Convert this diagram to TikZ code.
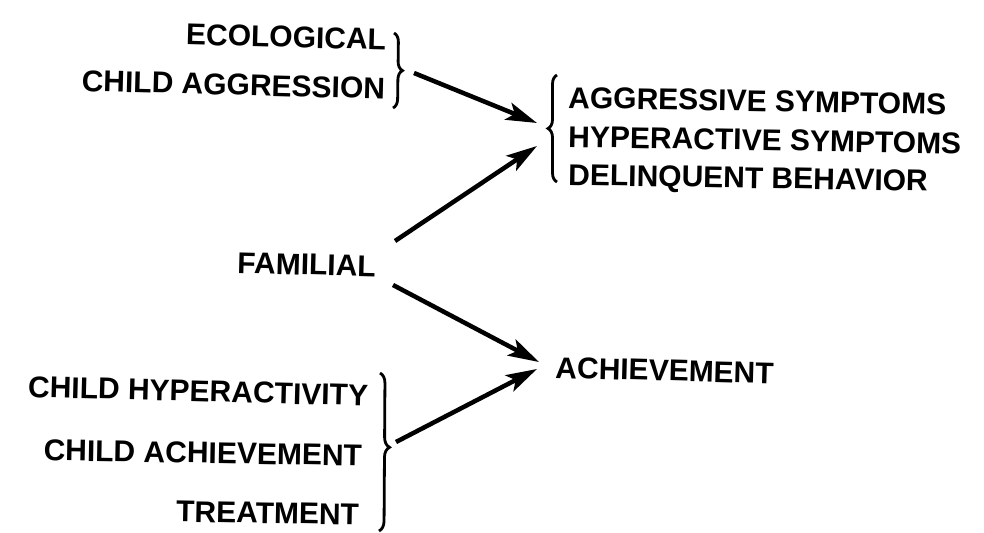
\documentclass[tikz,border=0pt]{standalone}
\usepackage{fontspec}
\setmainfont{Liberation Sans}
\usetikzlibrary{arrows.meta,decorations.pathreplacing}
\begin{document}
\begin{tikzpicture}[x=1bp,y=-1bp,
  lbl/.style={font=\fontsize{30bp}{36bp}\selectfont\bfseries, inner sep=0pt, text height=22bp, text depth=1bp},
  brc/.style={decorate, decoration={brace, amplitude=9bp}, line width=2.8bp},
  arr/.style={line width=4.5bp, -{Stealth[length=31bp,width=18bp,inset=7bp]}}]
\useasboundingbox[fill=white] (0,0) rectangle (984,533);

% left top group
\node[lbl, anchor=base east, rotate=-1.5] (eco)  at (386,50) {ECOLOGICAL};
\node[lbl, anchor=base east, rotate=-1.5] (cagg) at (385,99) {CHILD AGGRESSION};
% right top group
\node[lbl, anchor=base west, rotate=-1.0] (aggs) at (568,108) {AGGRESSIVE SYMPTOMS};
\node[lbl, anchor=base west, rotate=-1.0] (hyps) at (568,147) {HYPERACTIVE SYMPTOMS};
\node[lbl, anchor=base west, rotate=-1.0] (delb) at (568,185) {DELINQUENT BEHAVIOR};
% middle
\node[lbl, anchor=base west, rotate=-1.5] (fam) at (237,273) {FAMILIAL};
\node[lbl, anchor=base west, rotate=-1.5] (ach) at (555,378) {ACHIEVEMENT};
% bottom left group
\node[lbl, anchor=base east, rotate=-1.5] (chyp)  at (368,406) {CHILD HYPERACTIVITY};
\node[lbl, anchor=base east, rotate=-1.0] (cach)  at (362,466) {CHILD ACHIEVEMENT};
\node[lbl, anchor=base east, rotate=-1.0] (treat) at (359,525) {TREATMENT};

% brace ends and tips
\coordinate (b1top) at (394,33);
\coordinate (b1bot) at (393,108);
\coordinate (b1)    at (414,73);
\coordinate (b2bot) at (557,182);
\coordinate (b2top) at (557,75);
\coordinate (t1)    at (537,123);
\coordinate (t2)    at (537,146);
\coordinate (f1)    at (395,241);
\coordinate (f2)    at (393,285);
\coordinate (a1)    at (539,362);
\coordinate (a2)    at (537,369);
\coordinate (b3top) at (380,373);
\coordinate (b3bot) at (379,531);
\coordinate (b3)    at (396,442);

\draw[brc] (b1top) -- (b1bot);
\draw[brc] (b2bot) -- (b2top);
\draw[brc, decoration={brace, amplitude=10bp, aspect=0.47}] (b3top) -- (b3bot);

\draw[arr] (b1) -- (t1);
\draw[arr] (f1) -- (t2);
\draw[arr] (f2) -- (a1);
\draw[arr] (b3) -- (a2);
\end{tikzpicture}
\end{document}
